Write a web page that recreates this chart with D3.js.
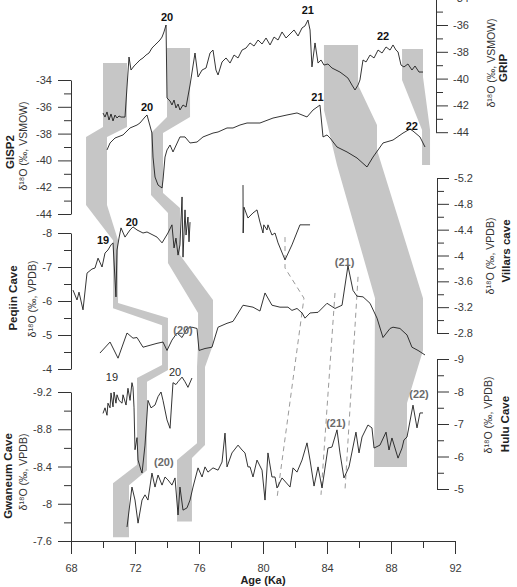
<!DOCTYPE html>
<html><head><meta charset="utf-8">
<script src="https://cdn.jsdelivr.net/npm/d3@7"></script>
<style>body{margin:0;background:#fff}svg{display:block}</style>
</head><body>
<svg id="c" width="517" height="587"></svg>
<script>
// ---------- DATA (age in ka, δ18O in ‰) ----------
const gripData = [[70.0,-42.57],[70.125,-42.87],[70.25,-42.49],[70.375,-43.09],[70.5,-42.64],[70.625,-43.16],[70.75,-42.72],[70.875,-42.94],[71.0,-42.79],[71.125,-42.87],[71.375,-42.87],[71.625,-38.39],[71.75,-39.36],[71.94,-39.06],[72.125,-38.84],[72.31,-38.61],[72.5,-38.46],[72.69,-38.24],[72.875,-38.09],[73.06,-37.72],[73.25,-37.49],[73.44,-37.27],[73.56,-37.12],[73.69,-36.9],[73.81,-36.52],[73.94,-36.0],[74.0,-41.45],[74.19,-41.67],[74.31,-41.97],[74.44,-41.6],[74.56,-42.19],[74.69,-41.9],[74.81,-42.34],[75.0,-41.97],[75.19,-42.12],[75.44,-40.48],[75.75,-38.09],[75.94,-39.88],[76.19,-39.36],[76.44,-39.21],[76.69,-38.09],[76.875,-37.87],[77.06,-39.36],[77.19,-39.73],[77.44,-38.76],[77.69,-38.46],[77.94,-38.84],[78.19,-38.24],[78.44,-38.46],[78.69,-37.87],[78.94,-37.72],[79.19,-37.34],[79.44,-37.57],[79.69,-37.12],[79.94,-37.42],[80.19,-36.97],[80.44,-37.49],[80.69,-36.9],[80.94,-37.12],[81.19,-36.52],[81.44,-36.97],[81.69,-36.67],[81.94,-36.37],[82.19,-36.82],[82.44,-36.22],[82.625,-36.07],[82.81,-35.63],[82.94,-36.37],[83.06,-39.13],[83.25,-37.34],[83.44,-38.84],[83.625,-38.61],[83.81,-38.99],[84.06,-38.91],[84.31,-39.21],[84.56,-39.36],[84.81,-39.51],[85.06,-39.73],[85.31,-39.96],[85.56,-40.48],[85.75,-40.85],[85.94,-40.48],[86.06,-40.1],[86.25,-38.61],[86.44,-38.76],[86.69,-38.24],[86.94,-38.46],[87.19,-37.87],[87.44,-38.09],[87.69,-37.64],[87.94,-37.87],[88.125,-37.49],[88.31,-37.87],[88.44,-38.01],[88.625,-38.99],[88.81,-39.13],[89.06,-38.91],[89.31,-39.36],[89.5,-39.06],[89.75,-39.51],[90.0,-39.51]];

const gisp2Data = [[70.25,-39.22],[70.44,-38.7],[70.75,-38.33],[71.25,-38.1],[71.69,-37.58],[72.125,-37.36],[72.31,-37.21],[72.625,-36.76],[72.75,-36.61],[73.06,-37.96],[73.125,-39.75],[73.25,-41.24],[73.44,-41.84],[73.69,-42.06],[73.75,-41.46],[73.875,-39.75],[74.0,-39.22],[74.19,-38.85],[74.375,-39.37],[74.81,-38.25],[75.125,-38.25],[75.44,-38.7],[75.875,-38.63],[76.25,-38.25],[76.875,-37.96],[77.19,-37.88],[77.75,-37.58],[78.125,-37.58],[78.56,-37.36],[79.0,-37.21],[79.375,-37.21],[79.81,-37.21],[80.625,-36.84],[81.5,-36.61],[82.125,-36.46],[82.75,-36.76],[83.125,-36.24],[83.56,-35.87],[83.75,-38.25],[84.0,-38.1],[84.19,-38.33],[84.625,-39.0],[85.25,-39.37],[85.875,-39.82],[86.5,-40.49],[86.875,-39.75],[87.5,-38.7],[88.125,-38.48],[88.75,-37.96],[89.19,-37.66],[89.375,-37.81],[89.81,-38.25],[90.125,-39.0]];

const peqiinA = [[68.125,-6.32],[68.375,-6.03],[68.5,-6.26],[68.75,-5.74],[69.0,-6.82],[69.31,-6.94],[69.5,-6.97],[69.69,-7.26],[69.94,-7.0],[70.125,-7.41],[70.31,-7.5],[70.5,-7.65],[70.625,-7.71],[70.81,-6.12],[70.875,-7.5],[71.0,-7.85],[71.125,-8.15],[71.375,-7.88],[71.69,-8.09],[71.875,-8.18],[72.125,-8.09],[72.5,-8.0],[72.75,-8.03],[73.125,-7.94],[73.375,-7.88],[73.69,-7.71],[74.06,-8.0],[74.31,-8.24],[74.44,-7.56],[74.56,-7.85],[74.69,-7.35],[74.81,-7.65],[74.94,-9.06],[75.0,-7.29],[75.125,-8.68],[75.19,-7.94],[75.31,-8.47],[75.375,-7.74],[75.44,-8.32]];
const peqiinB = [[78.75,-9.41],[78.76,-8.0],[78.81,-8.76],[79.06,-8.44],[79.375,-8.59],[79.625,-8.68],[79.81,-8.32],[80.0,-8.0],[80.05,-8.24],[80.25,-8.09],[80.31,-8.24],[80.56,-7.94],[80.75,-8.0],[80.94,-7.71],[81.375,-7.21],[81.81,-7.65],[82.31,-8.24],[82.94,-8.24]];

const villarsData = [[69.81,-2.49],[70.44,-2.66],[70.94,-2.41],[71.5,-2.8],[71.875,-2.72],[72.125,-2.73],[72.5,-2.58],[72.94,-2.61],[73.375,-2.64],[73.75,-2.66],[74.0,-2.53],[74.31,-2.69],[74.625,-2.8],[74.94,-2.73],[75.25,-2.87],[75.56,-2.89],[75.875,-2.87],[76.0,-2.53],[76.375,-2.56],[76.81,-2.58],[77.19,-2.89],[77.75,-2.95],[78.125,-2.98],[78.75,-3.23],[79.375,-3.2],[79.81,-3.14],[80.125,-3.42],[80.56,-3.23],[81.06,-3.2],[81.56,-3.2],[81.81,-3.15],[82.125,-3.18],[82.44,-3.11],[82.625,-3.03],[82.94,-3.11],[83.44,-3.12],[84.0,-3.26],[84.5,-3.18],[84.94,-3.23],[85.31,-3.84],[85.625,-3.46],[85.875,-3.37],[86.25,-3.36],[86.69,-3.26],[87.125,-3.03],[87.5,-2.73],[87.94,-2.87],[88.125,-2.89],[88.56,-2.87],[89.0,-2.77],[89.31,-2.58],[89.69,-2.53],[90.125,-2.46]];

const gwaneumData = [[70.0,-8.97],[70.125,-9.03],[70.25,-8.95],[70.31,-9.08],[70.44,-9.03],[70.5,-9.19],[70.625,-9.04],[70.69,-9.2],[70.81,-9.08],[70.875,-9.17],[71.0,-9.11],[71.19,-9.08],[71.25,-9.17],[71.44,-9.06],[71.56,-9.24],[71.69,-9.11],[71.81,-9.3],[71.875,-9.25],[71.94,-9.03],[72.0,-8.58],[72.125,-8.71],[72.19,-8.47],[72.375,-8.36],[72.44,-8.33],[72.625,-8.63],[72.81,-9.11],[73.0,-9.03],[73.25,-9.06],[73.44,-9.15],[73.625,-9.2],[73.75,-9.11],[74.0,-8.9],[74.19,-8.81],[74.375,-9.3],[74.56,-9.28],[74.69,-9.31],[74.94,-9.36],[75.125,-9.31],[75.31,-9.25],[75.56,-9.35]];

const huluData = [[71.5,-3.83],[71.81,-5.06],[72.0,-4.66],[72.19,-3.95],[72.44,-4.66],[72.625,-4.82],[72.81,-4.66],[73.06,-5.49],[73.25,-5.06],[73.44,-5.43],[73.69,-5.12],[73.875,-5.37],[74.06,-5.28],[74.31,-5.12],[74.5,-5.34],[74.69,-4.2],[74.81,-5.06],[75.0,-4.35],[75.25,-4.42],[75.44,-4.66],[75.625,-5.06],[75.94,-5.65],[76.19,-5.37],[76.375,-5.68],[76.56,-5.52],[76.875,-5.65],[77.19,-5.58],[77.44,-5.83],[77.625,-6.72],[77.75,-5.68],[78.06,-6.11],[78.44,-6.35],[78.69,-6.2],[78.875,-6.11],[79.06,-5.68],[79.19,-5.68],[79.375,-5.37],[79.625,-5.89],[79.94,-5.58],[80.125,-4.66],[80.31,-6.11],[80.56,-5.37],[80.75,-5.37],[80.875,-5.03],[81.19,-5.34],[81.69,-5.06],[81.875,-5.65],[82.125,-5.52],[82.44,-5.89],[82.75,-6.42],[82.94,-5.89],[83.19,-5.09],[83.44,-5.68],[83.69,-5.03],[84.06,-6.26],[84.31,-6.29],[84.625,-6.82],[84.81,-6.11],[85.06,-5.34],[85.375,-5.68],[85.81,-6.75],[86.0,-6.11],[86.19,-6.6],[86.56,-6.97],[86.81,-6.88],[86.94,-6.26],[87.31,-6.35],[87.69,-6.75],[87.875,-6.2],[88.06,-6.57],[88.44,-5.95],[88.69,-6.26],[88.81,-6.51],[89.0,-6.6],[89.375,-7.58],[89.625,-6.88],[89.81,-7.34],[90.0,-7.34]];

// correlation bands: [age, record, value]
const band1 = [[70.0,"grip",-38.84],[70.0,"gisp2",-37.51],[68.94,"gisp2",-38.25],[68.94,"gisp2",-43.33],[70.625,"peqiin",-7.79],[70.625,"peqiin",-5.79],[73.69,"peqiin",-5.29],[73.69,"peqiin",-4.12],[72.125,"gwaneum",-9.35],[72.125,"gwaneum",-8.42],[70.625,"gwaneum",-8.22],[70.625,"gwaneum",-7.64],[71.625,"gwaneum",-7.64],[71.625,"gwaneum",-8.2],[72.75,"gwaneum",-8.36],[72.75,"gwaneum",-9.31],[74.06,"peqiin",-3.97],[74.06,"peqiin",-5.5],[70.94,"peqiin",-5.94],[70.94,"peqiin",-7.79],[70.25,"gisp2",-43.33],[70.25,"gisp2",-38.25],[71.5,"gisp2",-37.51],[71.5,"grip",-38.84]];
const band2 = [[74.0,"grip",-37.72],[74.0,"gisp2",-36.76],[73.0,"gisp2",-37.96],[73.0,"gisp2",-42.58],[74.06,"gisp2",-43.93],[74.06,"peqiin",-7.12],[75.94,"peqiin",-5.65],[75.94,"peqiin",-4.71],[75.875,"peqiin",-4.06],[75.875,"gwaneum",-8.65],[74.625,"gwaneum",-8.47],[74.625,"gwaneum",-7.81],[75.56,"gwaneum",-7.81],[75.56,"gwaneum",-8.49],[76.375,"gwaneum",-8.63],[76.375,"peqiin",-4.06],[76.875,"peqiin",-4.71],[76.875,"peqiin",-6.03],[74.81,"peqiin",-7.35],[74.81,"gisp2",-43.55],[73.75,"gisp2",-42.43],[73.75,"gisp2",-37.96],[75.44,"gisp2",-36.76],[75.44,"grip",-37.72]];
const band3 = [[83.81,"grip",-37.49],[83.81,"gisp2",-36.24],[84.625,"gisp2",-40.34],[87.0,"villars",-3.34],[86.94,"hulu",-5.68],[89.0,"hulu",-5.68],[89.0,"hulu",-7.65],[90.0,"villars",-2.53],[90.0,"villars",-3.34],[87.125,"gisp2",-39.22],[87.125,"gisp2",-37.36],[85.94,"grip",-40.48],[85.94,"grip",-37.49]];
const band4 = [[88.69,"grip",-37.79],[90.0,"grip",-37.79],[90.0,"grip",-39.88],[90.44,"grip",-43.84],[90.44,"gisp2",-40.34],[89.94,"gisp2",-40.34],[89.94,"grip",-43.84],[88.69,"grip",-40.1]];
const dashLines = [
  [[81.375,"peqiin",-7.88],[81.375,"peqiin",-6.97],[82.56,"villars",-3.34],[80.875,"hulu",-4.72]],
  [[84.5,"villars",-3.42],[83.625,"hulu",-4.82]],
  [[85.94,"villars",-3.67],[85.125,"hulu",-4.97]]
];

const xTicksMajor = [68,72,76,80,84,88,92];
const xTicksMinor = [70,74,78,82,86,90];
const gripTicks = [-34,-36,-38,-40,-42,-44];
const gisp2Ticks = [-34,-36,-38,-40,-42,-44];
const peqiinTicks = [-8,-7,-6,-5,-4];
const villarsTicks = [-5.2,-4.8,-4.4,-4,-3.6,-3.2,-2.8];
const gwaneumTicks = [-9.2,-8.8,-8.4,-8,-7.6];
const huluTicks = [-9,-8,-7,-6,-5];

// event labels: [text, age, record, value, style]
const eventLabels = [
  ["20",74.0,"grip",-35.4,"b"],["21",82.8,"grip",-34.9,"b"],["22",87.5,"grip",-36.8,"b"],
  ["20",72.75,"gisp2",-36.0,"b"],["21",83.4,"gisp2",-35.3,"b"],["22",89.3,"gisp2",-37.4,"b"],
  ["19",70.0,"peqiin",-7.79,"b"],["20",71.8,"peqiin",-8.32,"b"],
  ["(20)",75.0,"villars",-2.85,"g"],["(21)",85.1,"villars",-3.9,"g"],
  ["19",70.56,"gwaneum",-9.36,"n"],["20",74.5,"gwaneum",-9.42,"n"],
  ["(20)",73.8,"hulu",-5.83,"g"],["(21)",84.56,"hulu",-7.02,"g"],["(22)",89.75,"hulu",-7.92,"g"]
];

// ---------- DRAW ----------
const svg = d3.select("#c");
const font = "'Liberation Sans', Arial, sans-serif";
const x = d3.scaleLinear().domain([68,92]).range([71,455]);
const y = {
  grip: d3.scaleLinear().domain([-34,-44]).range([-1.8,132.2]),
  gisp2: d3.scaleLinear().domain([-34,-44]).range([80,214]),
  peqiin: d3.scaleLinear().domain([-8,-4]).range([233,369]),
  villars: d3.scaleLinear().domain([-5.2,-2.8]).range([178,333]),
  gwaneum: d3.scaleLinear().domain([-9.2,-7.6]).range([392,541]),
  hulu: d3.scaleLinear().domain([-9,-5]).range([359,489])
};

const bandLine = d3.line().x(d=>x(d[0])).y(d=>y[d[1]](d[2]));
[band1,band2,band3,band4].forEach(b=>{
  svg.append("path").attr("d",bandLine(b)+"Z").attr("fill","#c6c6c6").attr("stroke","none");
});
dashLines.forEach(l=>{
  svg.append("path").attr("d",bandLine(l)).attr("fill","none")
    .attr("stroke","#9a9a9a").attr("stroke-width",1).attr("stroke-dasharray","5,4");
});

function series(data,key){
  const ln = d3.line().x(d=>x(d[0])).y(d=>y[key](d[1]));
  svg.append("path").attr("d",ln(data)).attr("fill","none")
    .attr("stroke","#1e1e1e").attr("stroke-width",0.9).attr("stroke-linejoin","round");
}
series(gripData,"grip");
series(gisp2Data,"gisp2");
series(peqiinA,"peqiin");
series(peqiinB,"peqiin");
series(villarsData,"villars");
series(gwaneumData,"gwaneum");
series(huluData,"hulu");

function styleAxis(g){
  g.selectAll("path,line").attr("stroke","#333").attr("stroke-width",1);
  g.selectAll("text").attr("font-family",font).attr("font-size",11).attr("fill","#3a3a3a");
}
function midTicks(t){
  const out=[]; for(let i=0;i<t.length-1;i++) out.push((t[i]+t[i+1])/2); return out;
}
function vAxis(key,ticks,xpos,side){
  const sc=y[key];
  const mk = side==="left"?d3.axisLeft:d3.axisRight;
  const g1 = svg.append("g").attr("transform",`translate(${xpos},0)`)
    .call(mk(sc).tickValues(midTicks(ticks)).tickSize(7).tickSizeOuter(0).tickFormat(""));
  styleAxis(g1);
  const g2 = svg.append("g").attr("transform",`translate(${xpos},0)`)
    .call(mk(sc).tickValues(ticks).tickSize(side==="left"?13:12).tickSizeOuter(0)
      .tickPadding(side==="left"?6:5).tickFormat(d=>String(d)));
  g2.select(".domain").remove();
  styleAxis(g2);
}
vAxis("grip",gripTicks,436,"right");
vAxis("gisp2",gisp2Ticks,71,"left");
vAxis("peqiin",peqiinTicks,71,"left");
vAxis("villars",villarsTicks,437,"right");
vAxis("gwaneum",gwaneumTicks,71,"left");
vAxis("hulu",huluTicks,437,"right");

const gx1 = svg.append("g").attr("transform","translate(0,541)")
  .call(d3.axisBottom(x).tickValues(xTicksMinor).tickSize(7).tickSizeOuter(0).tickFormat(""));
styleAxis(gx1);
const gx2 = svg.append("g").attr("transform","translate(0,541)")
  .call(d3.axisBottom(x).tickValues(xTicksMajor).tickSize(13).tickSizeOuter(0).tickPadding(10));
gx2.select(".domain").remove();
styleAxis(gx2);

svg.append("text").attr("x",263).attr("y",584).attr("text-anchor","middle")
  .attr("font-family",font).attr("font-size",11).attr("font-weight","bold").attr("fill","#222")
  .text("Age (Ka)");

function rot(txt,cx,cy,bold,size){
  svg.append("text").attr("transform",`translate(${cx},${cy}) rotate(-90)`)
    .attr("text-anchor","middle").attr("font-family",font).attr("font-size",size)
    .attr("font-weight",bold?"bold":"normal").attr("fill",bold?"#222":"#333").text(txt);
}
rot("GISP2",14,152,true,11.5);
rot("δ¹⁸O (‰, VSMOW)",27,146,false,10.5);
rot("Peqiin Cave",17,298,true,11.5);
rot("δ¹⁸O (‰, VPDB)",36,299,false,10.5);
rot("Gwaneum Cave",12,476,true,11.5);
rot("δ¹⁸O (‰, VPDB)",27,472,false,10.5);
rot("δ¹⁸O (‰, VSMOW)",495,63,false,10.5);
rot("GRIP",507,68,true,11.5);
rot("δ¹⁸O (‰, VPDB)",494,256,false,10.5);
rot("Villars cave",510,251,true,11.5);
rot("δ¹⁸O (‰, VPDB)",492,415,false,10.5);
rot("Hulu Cave",509,424,true,11.5);

eventLabels.forEach(e=>{
  svg.append("text").attr("x",x(e[1])).attr("y",y[e[2]](e[3])+4).attr("text-anchor","middle")
    .attr("font-family",font).attr("font-size",11)
    .attr("font-weight",e[4]==="n"?"normal":"bold")
    .attr("fill",e[4]==="g"?"#6a6a6a":(e[4]==="n"?"#2a2a2a":"#111"))
    .text(e[0]);
});
</script>
</body></html>
